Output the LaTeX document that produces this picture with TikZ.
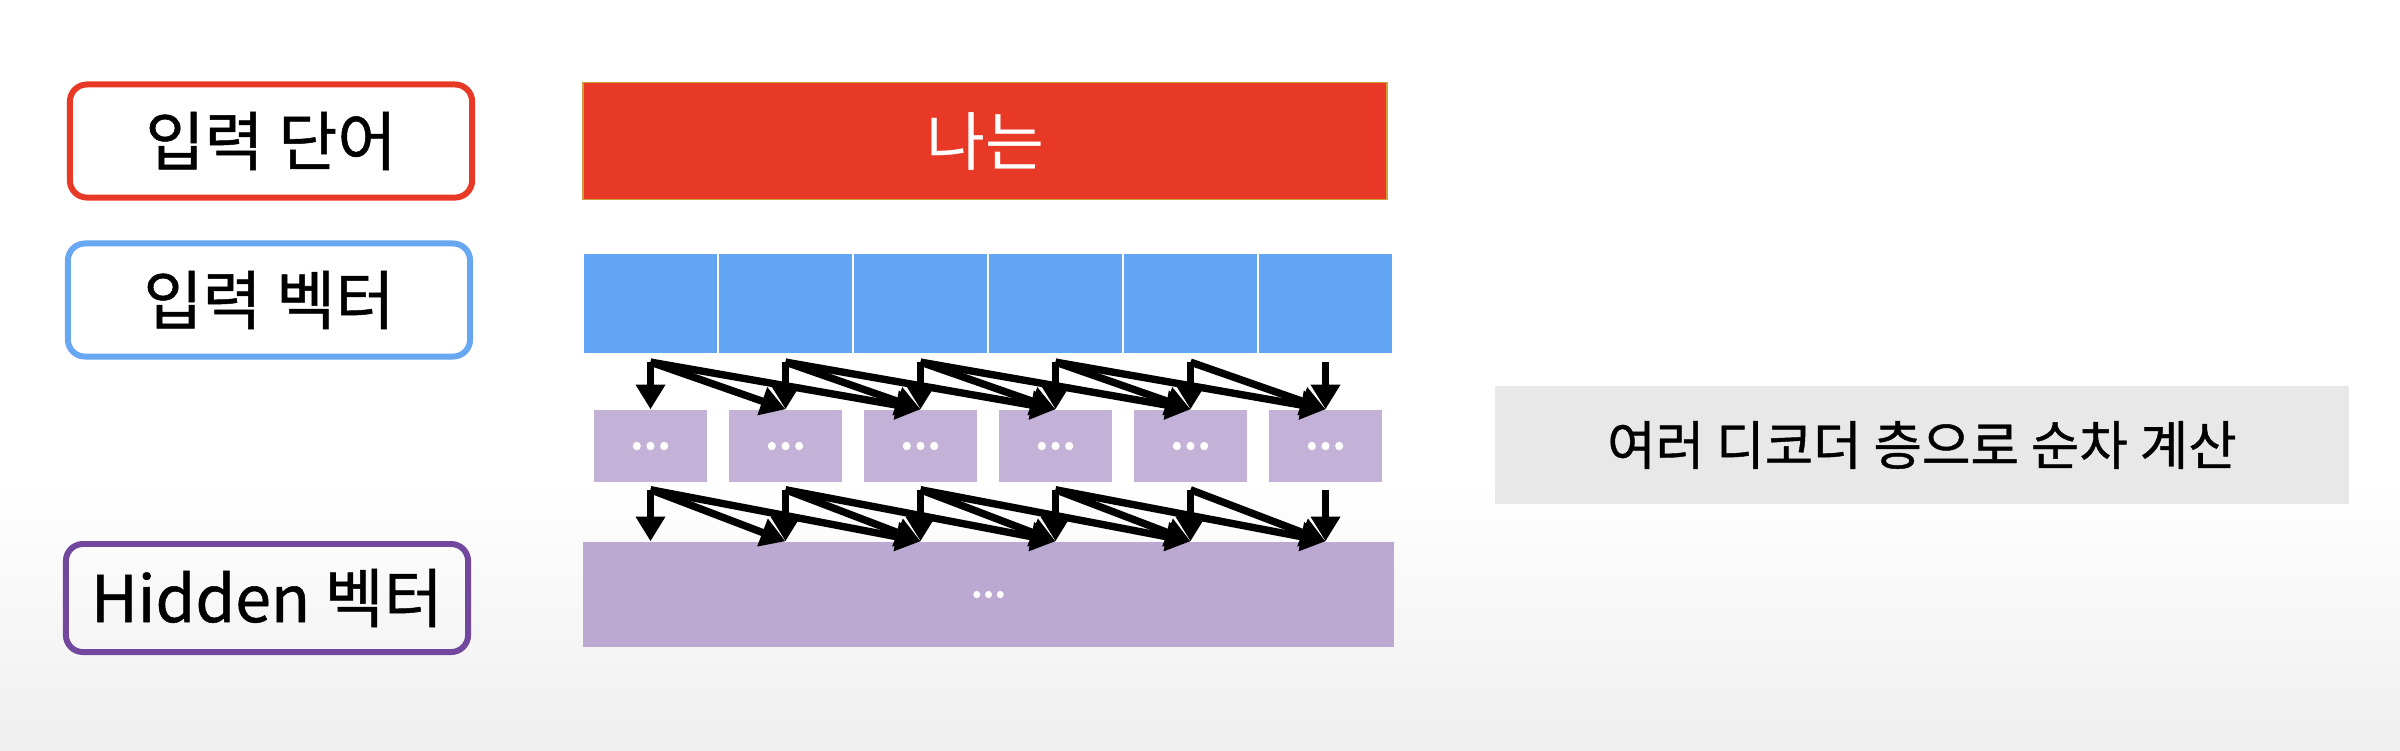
\documentclass[tikz,border=0pt]{standalone}
\usepackage{fontspec}
\setmainfont{Noto Sans CJK KR}[AutoFakeBold=3]
\newfontfamily\krmed{Noto Sans CJK KR}[FakeBold=0.8]
\usetikzlibrary{arrows.meta,calc}

\definecolor{wordred}{RGB}{232,57,38}
\definecolor{wordedge}{RGB}{205,160,60}
\definecolor{vecblue}{RGB}{99,165,245}
\definecolor{labelblue}{RGB}{104,168,242}
\definecolor{hidpurple}{RGB}{114,72,158}
\definecolor{layerlilac}{RGB}{195,177,216}
\definecolor{hidlilac}{RGB}{188,169,210}
\definecolor{notegray}{RGB}{232,232,232}
\definecolor{bggray}{RGB}{239,239,239}

\tikzset{
  labelbox/.style={draw=#1, line width=1.7pt, rounded corners=0.17cm, minimum width=4.02cm, minimum height=1.13cm, font=\krmed\fontsize{18.3pt}{22pt}\selectfont},
  veccell/.style={fill=vecblue, draw=white, line width=0.6pt, minimum width=1.35cm, minimum height=1.01cm},
  layerbox/.style={fill=layerlilac, minimum width=1.13cm, minimum height=0.72cm, text=white, font=\bfseries\fontsize{14pt}{16pt}\selectfont},
  flow/.style={line width=2.1pt, -{Triangle[length=7pt,width=8pt]}}
}

\begin{document}
\begin{tikzpicture}[x=0.01cm, y=-0.01cm]
  \useasboundingbox (0,0) rectangle (2400,750);
  \fill[white] (0,0) rectangle (2400,750);
  \shade[top color=white, bottom color=bggray] (0,480) rectangle (2400,750);

  \node[labelbox=wordred] (lword) at (271,141) {입력 단어};
  \node[labelbox=labelblue] (lvec) at (269,300) {입력 벡터};
  \node[labelbox=hidpurple, minimum height=1.08cm] (lhid) at (267,598) {Hidden 벡터};

  \node[fill=wordred, draw=wordedge, line width=0.5pt, minimum width=8.04cm, minimum height=1.17cm, text=white, font=\fontsize{18.2pt}{22pt}\selectfont] (word) at (985,141) {나는};

  \foreach \i in {1,...,6}
  {
  \node[veccell] (v\i) at ({583+135*\i-67.5},303.5) {};
  \node[layerbox] (p\i) at ({583+135*\i-67.5},446) {...};
  }

  \node[fill=hidlilac, minimum width=8.11cm, minimum height=1.05cm, text=white, font=\bfseries\fontsize{12pt}{14pt}\selectfont] (hid) at (988.5,594.5) {...};

  \node[fill=notegray, minimum width=8.54cm, minimum height=1.18cm, font=\krmed\fontsize{15pt}{18pt}\selectfont] (note) at (1922,445) {여러 디코더 층으로 순차 계산};

  \foreach \i in {1,...,6}
  {
  \coordinate (a\i) at ($(v\i.south)+(0,7)$);
  \coordinate (b\i) at ($(p\i.south)+(0,7)$);
  }
  \foreach \i/\k in {1/3,2/4,3/5,4/6,5/6,6/6}
  {
  \foreach \j in {\i,...,\k}
  {
  \draw[flow] (a\i) -- (p\j.north);
  \draw[flow] (b\i) -- (p\j |- hid.north);
  }
  }
\end{tikzpicture}
\end{document}
